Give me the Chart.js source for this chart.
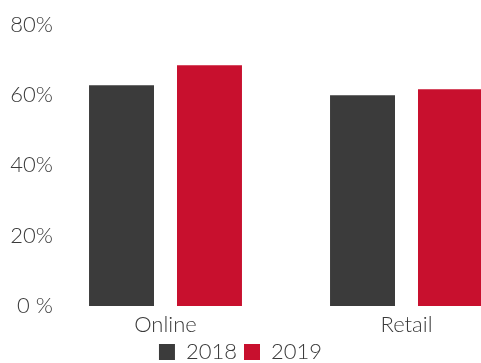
<!DOCTYPE html>
<html>
<head>
<meta charset="utf-8">
<script src="https://cdn.jsdelivr.net/npm/chart.js@4.4.1/dist/chart.umd.min.js"></script>
<style>
  html, body { margin: 0; padding: 0; background: #fff; }
  #wrap { width: 481px; height: 363px; }
</style>
</head>
<body>
<div id="wrap"><canvas id="myChart"></canvas></div>
<script>
  // share of customers, per channel
  const categories = ['Online', 'Retail'];
  const years = ['2018', '2019'];
  const values2018 = [62.7, 59.9];
  const values2019 = [68.4, 61.6];
  const tickLabels = ['0 %', '20%', '40%', '60%', '80%'];

  const grey = '#3b3b3b';
  const red = '#c8102e';
  const textColor = '#3a3a3a';

  Chart.defaults.font.family = 'Lato';
  Chart.defaults.font.weight = 300;
  Chart.defaults.font.size = 22;
  Chart.defaults.color = textColor;

  const data = {
    labels: categories,
    datasets: [
      {
        label: years[0],
        data: values2018,
        backgroundColor: grey,
        categoryPercentage: 0.73,
        barPercentage: 0.7386,
        clip: false,
      },
      {
        label: years[1],
        data: values2019,
        backgroundColor: red,
        categoryPercentage: 0.73,
        barPercentage: 0.7386,
        clip: false,
      }
    ]
  };

  const config = {
    type: 'bar',
    data: data,
    options: {
      responsive: true,
      maintainAspectRatio: false,
      animation: false,
      layout: {
        padding: { top: 24.5, left: 0, right: 0, bottom: 0 }
      },
      scales: {
        x: {
          offset: false,
          grid: { display: false, drawTicks: false },
          border: { display: false },
          ticks: { padding: 6 },
          afterFit: (scale) => { scale.height = 28; }
        },
        y: {
          min: 0,
          max: 80,
          grid: { display: false, drawTicks: false },
          border: { display: false },
          ticks: {
            stepSize: 20,
            padding: 112.5,
            callback: (value) => tickLabels[value / 20]
          },
          // wide axis, labels pushed to the left edge
          afterFit: (scale) => {
            scale.width = 165.5;
            scale.paddingTop = 0;
            scale.paddingBottom = 0;
          }
        },
        // empty axis on the right to keep room for the last group
        yRight: {
          position: 'right',
          grid: { display: false, drawTicks: false },
          border: { display: false },
          ticks: { display: false },
          afterFit: (scale) => { scale.width = 74.5; }
        }
      },
      plugins: {
        legend: {
          position: 'bottom',
          maxHeight: 29,
          labels: {
            boxWidth: 16,
            boxHeight: 16,
            padding: 7
          }
        },
        tooltip: { enabled: false }
      }
    }
  };

  const myChart = new Chart(document.getElementById('myChart'), config);
</script>
</body>
</html>
